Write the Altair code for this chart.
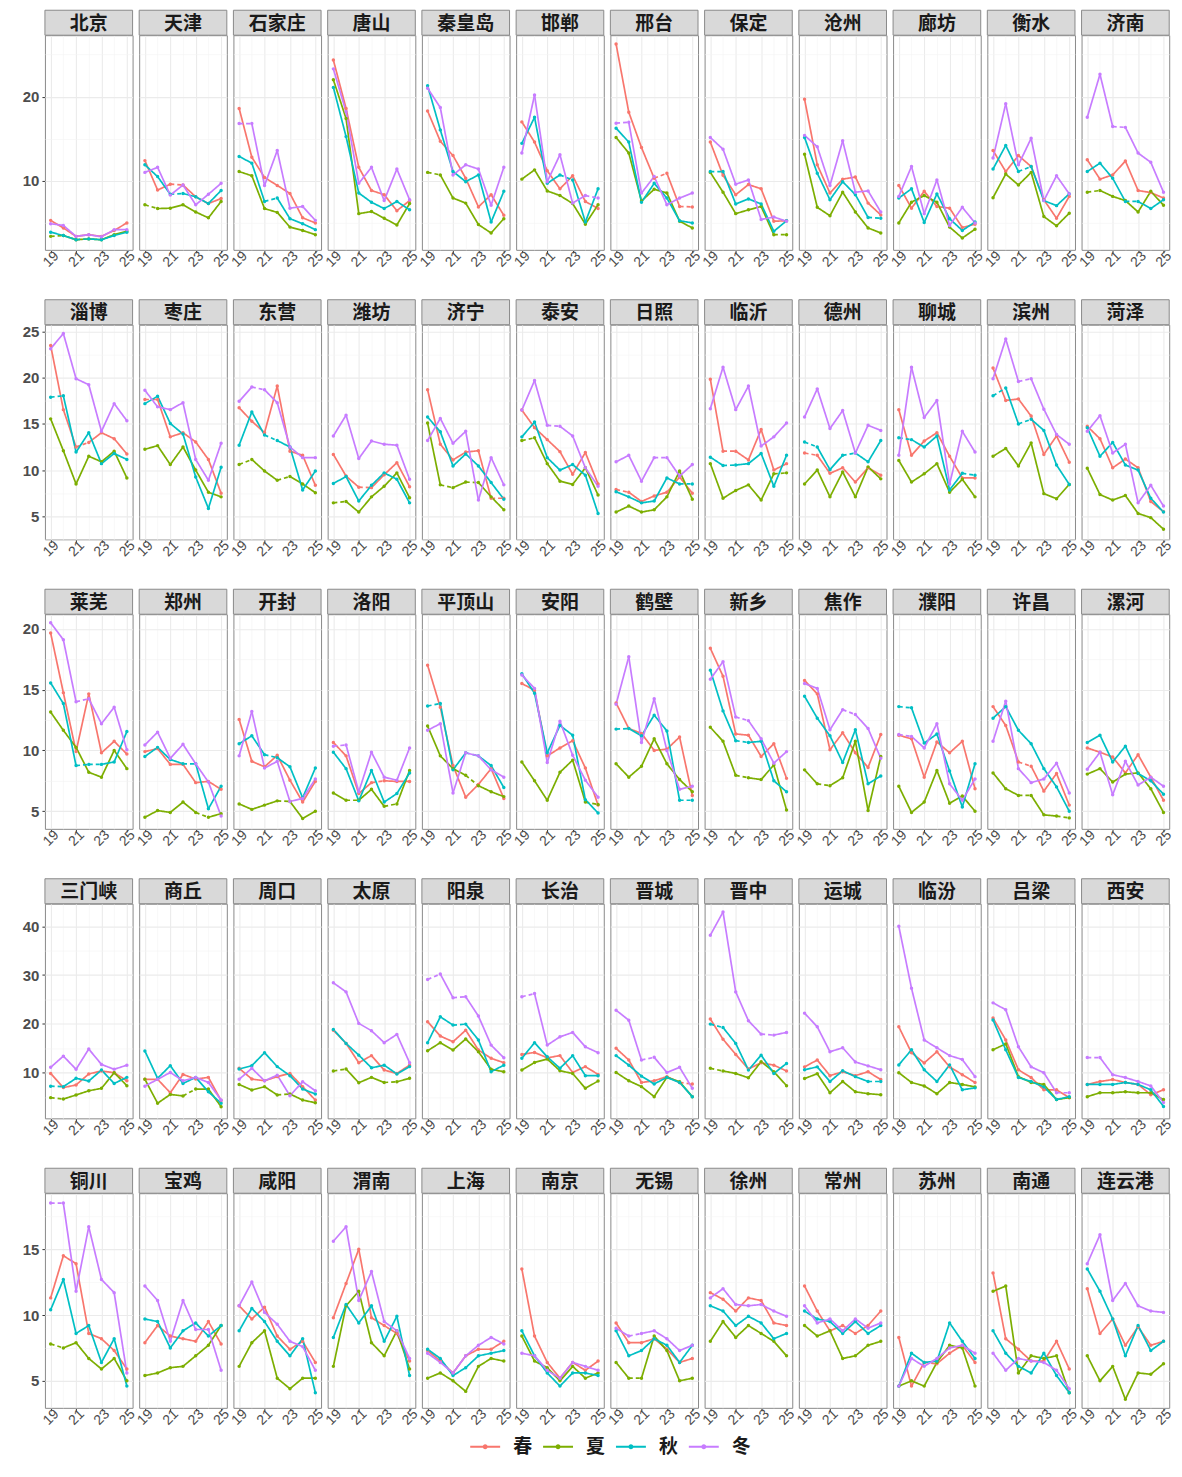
import altair as alt
import pandas as pd

SEASONS = ["春", "夏", "秋", "冬"]
COLORS = ["#F8766D", "#7CAE00", "#00BFC4", "#C77CFF"]
YEARS = [19, 20, 21, 22, 23, 24, 25]

# each city: [春, 夏, 秋, 冬] values for 2019..2025
ROW1 = {
    "北京": [[5.3, 4.4, 3.4, 3.6, 3.4, 4.1, 5.0], [3.4, 3.5, 3.0, 3.1, 3.0, 3.6, 4.0],
             [3.9, 3.5, 3.0, 3.1, 3.0, 3.5, 3.9], [4.9, 4.7, 3.4, 3.6, 3.35, 4.2, 4.2]],
    "天津": [[12.4, 8.9, 9.6, 9.5, 8.1, 7.3, 7.9], [7.15, 6.7, 6.75, 7.15, 6.3, 5.6, 7.55],
             [11.9, 10.5, 8.4, 8.5, 8.1, 7.3, 8.85], [11.0, 11.6, 8.3, 9.5, 7.15, 8.4, 9.7]],
    "石家庄": [[18.6, 12.8, 10.4, 9.45, 8.5, 5.6, 5.0], [11.1, 10.6, 6.7, 6.25, 4.5, 4.1, 3.6],
              [12.9, 12.1, 7.55, 7.95, 5.5, 4.9, 4.2], [16.8, 16.8, 9.45, 13.6, 6.75, 6.95, 5.3]],
    "唐山": [[24.35, 18.6, 11.6, 8.85, 8.35, 6.45, 7.65], [22.0, 17.4, 6.1, 6.35, 5.55, 4.75, 7.3],
             [21.1, 15.25, 8.55, 7.45, 6.7, 7.55, 6.55], [23.3, 18.2, 9.7, 11.6, 7.65, 11.4, 7.75]],
    "秦皇岛": [[18.3, 14.7, 13.0, 10.3, 6.9, 8.35, 5.9], [11.0, 10.7, 7.95, 7.35, 4.8, 3.8, 5.5],
              [21.3, 16.05, 11.1, 9.9, 10.7, 5.1, 8.75], [21.0, 18.7, 10.7, 11.9, 11.4, 7.1, 11.6]],
    "邯郸": [[17.0, 14.6, 11.2, 9.05, 10.6, 7.55, 6.7], [10.2, 11.3, 8.8, 8.25, 7.3, 4.85, 7.15],
             [14.45, 17.55, 9.7, 10.7, 10.1, 5.1, 9.05], [13.3, 20.2, 9.9, 13.1, 7.35, 8.25, 7.95]],
    "邢台": [[26.25, 18.15, 13.95, 10.3, 10.9, 6.95, 6.9], [15.15, 13.3, 7.6, 9.0, 8.55, 5.2, 4.4],
             [16.25, 14.6, 7.45, 9.7, 7.95, 5.25, 5.0], [16.85, 16.95, 8.55, 10.5, 7.15, 7.95, 8.55]],
    "保定": [[14.6, 10.65, 8.35, 9.55, 9.05, 5.2, 5.25], [11.0, 8.65, 6.1, 6.55, 6.95, 3.6, 3.6],
             [11.1, 11.1, 7.25, 7.85, 7.25, 4.0, 5.25], [15.15, 13.75, 9.6, 10.1, 5.4, 5.7, 5.2]],
    "沧州": [[19.7, 11.9, 8.55, 10.2, 10.45, 7.35, 5.95], [13.15, 6.85, 5.85, 8.65, 6.3, 4.4, 3.8],
             [15.15, 10.9, 7.75, 9.9, 8.35, 5.65, 5.55], [15.4, 14.05, 9.45, 14.75, 8.65, 8.8, 6.3]],
    "廊坊": [[9.45, 6.75, 8.75, 6.95, 6.75, 4.45, 4.85], [5.0, 7.45, 8.25, 7.45, 4.5, 3.2, 4.25],
             [7.95, 9.05, 5.05, 8.45, 5.5, 4.1, 5.1], [8.15, 11.7, 6.1, 10.1, 4.7, 6.85, 5.0]],
    "衡水": [[13.6, 11.1, 13.0, 11.7, 7.75, 5.55, 8.15], [8.0, 10.8, 9.5, 11.0, 5.75, 4.65, 6.15],
             [11.4, 14.2, 11.1, 11.7, 7.65, 7.05, 8.45], [12.7, 19.15, 11.9, 15.05, 7.65, 10.6, 8.45]],
    "济南": [[12.5, 10.2, 10.7, 12.35, 8.85, 8.6, 7.95], [8.65, 8.85, 8.15, 7.65, 6.3, 8.75, 7.1],
             [11.1, 12.1, 10.3, 7.55, 7.55, 6.7, 7.75], [17.55, 22.65, 16.45, 16.35, 13.3, 12.2, 8.65]],
}

ROW2 = {
    "淄博": [[23.5, 16.55, 12.5, 13.0, 14.05, 13.4, 11.75], [15.55, 12.1, 8.5, 11.5, 10.9, 12.05, 9.15],
             [17.9, 18.05, 11.95, 14.05, 10.7, 11.8, 11.15], [23.15, 24.8, 19.9, 19.25, 14.2, 17.2, 15.35]],
    "枣庄": [[17.65, 17.65, 13.6, 14.05, 13.05, 11.15, 7.5], [12.25, 12.65, 10.6, 12.5, 10.0, 7.6, 7.1],
             [17.2, 18.0, 15.05, 13.9, 9.25, 5.85, 10.3], [18.65, 16.85, 16.55, 17.3, 11.15, 8.9, 12.9]],
    "东营": [[16.75, 15.3, 14.05, 19.1, 12.05, 11.6, 8.35], [10.6, 11.15, 9.9, 8.9, 9.3, 8.5, 7.55],
             [12.7, 16.3, 13.8, 13.2, 12.5, 7.85, 9.9], [17.45, 19.0, 18.7, 17.3, 12.5, 11.35, 11.35]],
    "潍坊": [[11.7, 9.35, 8.15, 8.1, 9.5, 10.8, 8.2], [6.45, 6.6, 5.45, 7.1, 8.25, 9.7, 7.0],
             [8.55, 9.3, 6.65, 8.35, 9.7, 9.0, 6.45], [13.7, 15.95, 11.25, 13.15, 12.8, 12.7, 9.0]],
    "济宁": [[18.7, 12.8, 11.1, 11.95, 12.1, 6.95, 6.95], [15.1, 8.4, 8.1, 8.7, 8.65, 7.1, 5.7],
             [15.75, 14.15, 10.45, 11.75, 10.45, 8.65, 6.85], [13.2, 15.6, 12.9, 14.2, 6.75, 11.35, 8.4]],
    "泰安": [[16.5, 14.6, 13.3, 12.0, 9.55, 11.9, 8.5], [13.2, 13.5, 10.7, 8.8, 8.45, 10.25, 7.3],
             [13.6, 15.2, 11.35, 10.0, 10.6, 9.45, 5.3], [16.5, 19.7, 14.85, 14.75, 13.7, 10.25, 8.25]],
    "日照": [[7.9, 7.6, 6.6, 7.2, 7.6, 9.25, 7.5], [5.45, 6.1, 5.45, 5.7, 7.1, 9.9, 6.85],
             [7.65, 7.1, 6.45, 6.65, 9.15, 8.5, 8.5], [10.9, 11.6, 8.8, 11.35, 11.35, 9.35, 10.6]],
    "临沂": [[19.85, 12.05, 12.05, 11.1, 14.4, 10.0, 10.7], [10.7, 6.95, 7.8, 8.4, 6.75, 9.6, 9.7],
             [11.4, 10.5, 10.55, 10.7, 11.8, 8.25, 11.6], [16.65, 21.15, 16.55, 19.1, 12.6, 13.6, 15.1]],
    "德州": [[11.85, 11.6, 9.65, 10.25, 8.7, 10.25, 9.45], [8.5, 10.0, 7.1, 9.8, 7.1, 10.35, 9.05],
             [13.05, 12.5, 10.05, 11.6, 11.85, 10.9, 13.2], [15.75, 18.8, 14.5, 16.45, 11.85, 14.85, 14.3]],
    "聊城": [[16.55, 11.6, 13.15, 14.05, 11.5, 9.15, 9.15], [11.05, 8.7, 9.6, 10.7, 7.6, 9.0, 7.1],
             [13.5, 13.3, 12.5, 13.7, 7.85, 9.65, 9.45], [11.6, 21.15, 15.7, 17.55, 8.5, 14.2, 11.95]],
    "滨州": [[21.05, 17.55, 17.7, 15.85, 11.7, 13.7, 10.85], [11.5, 12.35, 10.45, 12.95, 7.45, 6.9, 8.45],
             [18.05, 18.9, 15.0, 15.5, 14.3, 10.55, 8.45], [19.9, 24.2, 19.6, 19.9, 16.6, 13.85, 12.8]],
    "菏泽": [[14.75, 13.4, 10.25, 11.2, 10.25, 6.6, 5.5], [10.2, 7.35, 6.75, 7.25, 5.3, 4.85, 3.6],
             [14.6, 11.5, 13.0, 10.55, 10.0, 6.95, 5.45], [14.2, 15.9, 11.85, 12.8, 6.45, 8.35, 6.1]],
}

ROW3 = {
    "莱芜": [[19.65, 14.75, 9.9, 14.65, 9.8, 10.75, 9.7], [13.15, 11.65, 10.25, 8.2, 7.8, 10.0, 8.5],
             [15.55, 13.85, 8.75, 8.85, 8.85, 9.05, 11.55], [20.5, 19.1, 14.0, 14.25, 12.2, 13.55, 10.05]],
    "郑州": [[9.9, 10.15, 8.85, 8.85, 7.35, 7.45, 6.8], [4.5, 5.05, 4.9, 5.75, 4.9, 4.5, 4.8],
             [9.5, 10.25, 9.25, 8.9, 8.9, 5.2, 7.05], [10.45, 11.5, 9.35, 10.5, 8.9, 7.4, 4.6]],
    "开封": [[12.55, 9.1, 8.65, 9.6, 7.55, 5.75, 7.45], [5.6, 5.15, 5.5, 5.85, 5.8, 4.4, 5.0],
             [10.55, 11.2, 9.65, 9.4, 8.65, 6.1, 8.55], [9.55, 13.2, 8.55, 9.1, 5.8, 6.05, 7.65]],
    "洛阳": [[10.65, 9.55, 6.45, 7.35, 7.5, 7.45, 7.45], [6.5, 5.9, 5.9, 6.8, 5.4, 5.6, 8.35],
             [9.85, 8.5, 5.85, 8.35, 5.75, 6.45, 8.15], [10.35, 10.45, 6.6, 9.85, 7.8, 7.55, 10.2]],
    "平顶山": [[17.0, 13.55, 8.75, 6.15, 7.2, 8.5, 6.05], [12.0, 9.55, 8.5, 7.95, 7.1, 6.6, 6.2],
              [13.65, 13.85, 8.4, 9.8, 9.55, 8.75, 6.95], [11.65, 12.2, 6.5, 9.8, 9.55, 8.4, 7.8]],
    "安阳": [[15.5, 14.95, 9.55, 10.2, 10.8, 8.55, 5.5], [9.05, 7.5, 5.9, 8.2, 9.2, 5.75, 5.55],
             [16.3, 14.7, 9.8, 12.05, 11.25, 5.95, 4.85], [16.2, 15.1, 9.0, 12.4, 9.6, 7.55, 6.15]],
    "鹤壁": [[13.9, 11.8, 11.4, 10.0, 10.1, 11.1, 6.3], [8.9, 7.8, 8.7, 10.95, 8.9, 7.6, 6.6],
             [11.75, 11.8, 11.2, 12.9, 11.6, 5.9, 5.9], [13.8, 17.7, 10.65, 14.25, 10.0, 6.8, 7.05]],
    "新乡": [[18.4, 16.1, 11.35, 11.25, 9.5, 10.55, 7.7], [11.9, 10.75, 7.95, 7.75, 7.6, 8.8, 5.1],
             [16.6, 13.25, 10.8, 10.65, 10.75, 7.5, 6.6], [15.85, 17.3, 12.75, 12.45, 10.95, 8.95, 9.9]],
    "焦作": [[15.75, 14.65, 10.05, 11.45, 9.8, 8.6, 11.3], [8.4, 7.25, 7.1, 7.75, 10.75, 5.05, 9.5],
             [14.45, 12.65, 11.2, 9.0, 11.7, 7.25, 7.9], [15.5, 15.1, 11.7, 13.35, 12.95, 11.8, 9.35]],
    "濮阳": [[11.25, 10.95, 7.8, 10.7, 9.8, 10.75, 6.85], [7.05, 4.9, 5.75, 8.35, 5.65, 6.25, 5.0],
             [13.6, 13.5, 10.6, 11.35, 8.3, 5.35, 8.9], [11.3, 11.15, 10.2, 12.2, 7.25, 5.9, 7.65]],
    "许昌": [[13.6, 12.05, 9.05, 8.7, 6.65, 8.1, 5.5], [8.15, 6.85, 6.3, 6.3, 4.7, 4.6, 4.45],
             [12.65, 13.6, 11.65, 10.55, 8.5, 7.0, 5.0], [10.75, 14.05, 8.5, 7.35, 7.65, 8.95, 6.5]],
    "漯河": [[10.2, 9.85, 9.45, 8.15, 9.65, 7.8, 5.9], [8.05, 8.5, 7.4, 8.05, 8.15, 6.85, 4.9],
             [10.65, 11.25, 9.05, 10.35, 8.1, 7.5, 6.4], [8.45, 9.85, 6.35, 9.1, 7.15, 7.8, 7.05]],
}

ROW4 = {
    "三门峡": [[9.85, 6.95, 7.5, 9.75, 10.35, 10.0, 8.35], [4.9, 4.6, 5.45, 6.3, 6.8, 10.0, 7.35],
              [7.25, 7.15, 8.85, 8.3, 10.55, 7.8, 9.05], [11.1, 13.4, 10.7, 14.85, 11.7, 10.7, 11.55]],
    "商丘": [[8.65, 8.65, 5.9, 9.65, 8.7, 9.05, 4.3], [8.65, 3.75, 5.55, 5.25, 6.65, 6.65, 3.05],
             [14.45, 8.85, 11.45, 7.8, 9.05, 6.1, 3.75], [7.25, 8.65, 10.05, 8.35, 9.05, 8.0, 4.4]],
    "周口": [[10.9, 8.7, 8.35, 9.2, 9.85, 7.15, 4.4], [7.6, 6.45, 7.15, 5.45, 5.65, 4.4, 3.85],
             [10.75, 11.45, 14.1, 11.25, 9.4, 6.65, 5.65], [8.65, 10.9, 8.35, 9.5, 5.3, 8.15, 6.3]],
    "太原": [[18.7, 16.0, 12.05, 13.5, 10.55, 9.85, 11.55], [10.35, 10.75, 7.95, 9.05, 8.0, 8.15, 8.85],
             [18.85, 16.0, 13.6, 11.0, 11.55, 9.75, 11.25], [28.4, 26.55, 20.1, 18.6, 16.15, 17.85, 12.05]],
    "阳泉": [[20.45, 17.5, 16.35, 18.7, 14.65, 12.95, 12.05], [14.5, 16.15, 14.65, 16.9, 14.3, 10.7, 10.2],
             [16.15, 21.45, 19.75, 19.95, 16.7, 10.2, 11.55], [29.1, 30.2, 25.35, 25.55, 21.6, 15.65, 13.05]],
    "长治": [[13.75, 14.15, 13.05, 13.5, 10.05, 11.25, 9.65], [10.55, 12.1, 12.8, 10.4, 9.85, 6.8, 8.3],
             [12.95, 16.15, 13.25, 10.9, 13.5, 9.4, 9.4], [25.55, 26.2, 15.65, 17.35, 18.25, 15.3, 14.1]],
    "晋城": [[15.0, 12.6, 8.0, 8.35, 9.2, 8.0, 7.7], [10.05, 8.35, 7.15, 5.1, 9.05, 8.15, 5.1],
             [13.5, 11.55, 9.3, 7.7, 9.05, 8.0, 5.1], [22.8, 20.75, 12.6, 13.15, 10.05, 11.1, 6.8]],
    "晋中": [[21.0, 16.85, 13.75, 10.75, 12.05, 11.55, 10.35], [10.9, 10.35, 9.85, 8.95, 12.25, 10.2, 7.35],
             [19.95, 19.25, 16.0, 10.55, 13.6, 9.85, 11.9], [38.15, 42.9, 26.55, 20.65, 17.9, 17.7, 18.25]],
    "运城": [[11.2, 12.6, 9.4, 10.2, 9.4, 10.2, 8.6], [8.8, 9.8, 5.9, 8.2, 6.1, 5.7, 5.5],
             [10.6, 11.2, 8.2, 10.4, 9.2, 8.2, 8.2], [22.2, 19.4, 14.3, 15.1, 12.2, 11.4, 10.6]],
    "临汾": [[19.4, 14.1, 12.0, 14.3, 11.2, 9.6, 8.0], [10.0, 8.0, 7.3, 5.7, 8.0, 7.6, 7.1],
             [11.6, 14.7, 10.6, 8.2, 11.6, 6.5, 6.9], [40.0, 27.3, 16.7, 15.1, 13.5, 12.7, 9.2]],
    "吕梁": [[21.2, 16.7, 10.6, 9.0, 6.5, 6.5, 4.9], [14.7, 15.9, 9.2, 8.0, 7.6, 4.5, 4.9],
             [20.8, 14.7, 9.0, 8.2, 7.1, 4.5, 5.1], [24.3, 22.9, 15.3, 11.2, 10.0, 5.9, 5.9]],
    "西安": [[7.6, 8.2, 8.6, 8.0, 7.6, 5.5, 6.5], [5.1, 5.9, 5.9, 6.1, 5.9, 5.9, 4.5],
             [7.6, 7.6, 7.6, 8.0, 7.6, 6.5, 3.1], [13.1, 13.1, 9.6, 9.0, 8.2, 7.3, 3.9]],
}

ROW5 = {
    "铜川": [[11.3, 14.5, 13.9, 8.6, 8.2, 7.3, 5.9], [7.8, 7.5, 7.9, 6.7, 5.9, 6.7, 5.0],
             [10.4, 12.7, 8.6, 9.2, 6.4, 8.2, 4.6], [18.5, 18.5, 11.8, 16.7, 12.7, 11.7, 5.6]],
    "宝鸡": [[7.9, 9.2, 8.4, 8.2, 8.0, 9.5, 7.8], [5.4, 5.6, 6.0, 6.1, 6.9, 7.7, 9.2],
             [9.7, 9.5, 7.5, 8.8, 9.4, 8.4, 9.2], [12.2, 11.1, 8.0, 11.1, 8.9, 8.9, 5.8]],
    "咸阳": [[10.7, 9.7, 10.6, 8.4, 7.4, 8.0, 6.4], [6.1, 7.9, 8.8, 5.2, 4.4, 5.2, 5.2],
             [8.8, 10.5, 9.5, 8.0, 6.9, 8.2, 4.1], [10.7, 12.5, 10.2, 9.3, 8.0, 7.6, 5.8]],
    "渭南": [[9.8, 12.4, 15.0, 9.8, 9.2, 8.6, 6.5], [6.1, 10.7, 11.8, 7.9, 6.9, 8.8, 5.9],
             [8.3, 10.8, 9.4, 10.7, 8.0, 9.9, 5.4], [15.6, 16.7, 11.1, 13.3, 9.5, 8.8, 6.7]],
    "上海": [[7.3, 6.5, 5.6, 6.9, 7.4, 7.4, 8.0], [5.2, 5.6, 5.0, 4.2, 6.1, 6.7, 6.5],
             [7.4, 6.7, 5.4, 6.0, 6.9, 7.1, 7.3], [7.1, 6.4, 5.6, 6.9, 7.7, 8.3, 7.8]],
    "南京": [[13.5, 8.4, 6.4, 5.2, 6.4, 5.8, 6.5], [8.4, 6.5, 6.0, 5.0, 6.1, 5.2, 5.6],
             [8.8, 6.9, 5.6, 4.6, 5.6, 5.6, 5.4], [7.1, 6.9, 5.8, 5.2, 6.4, 6.1, 5.8]],
    "无锡": [[9.4, 7.9, 7.9, 8.2, 7.4, 6.4, 6.7], [6.4, 5.2, 5.2, 8.4, 7.3, 5.0, 5.2],
             [8.8, 6.9, 7.3, 8.2, 7.7, 6.4, 7.7], [9.0, 8.4, 8.6, 8.8, 8.2, 7.3, 7.7]],
    "徐州": [[11.7, 11.2, 10.3, 11.3, 11.1, 9.4, 9.2], [8.0, 9.5, 8.3, 9.2, 8.6, 8.0, 6.9],
             [10.7, 10.3, 9.2, 9.9, 9.4, 8.2, 8.6], [11.3, 12.0, 10.8, 10.7, 10.8, 10.3, 9.9]],
    "常州": [[12.2, 10.3, 8.8, 9.2, 8.6, 9.2, 10.3], [9.2, 8.4, 8.8, 6.7, 6.9, 7.7, 8.0],
             [10.3, 9.7, 9.5, 8.6, 9.5, 8.6, 9.2], [10.7, 9.4, 9.7, 8.8, 9.7, 9.0, 9.4]],
    "苏州": [[8.3, 4.6, 6.4, 6.3, 7.1, 7.7, 6.4], [4.6, 5.0, 4.6, 6.4, 7.7, 7.5, 4.6],
             [4.6, 7.1, 6.4, 6.5, 9.4, 8.0, 6.7], [4.6, 6.7, 6.1, 6.7, 7.5, 7.7, 7.1]],
    "南通": [[13.2, 8.2, 7.4, 6.5, 6.5, 8.0, 5.9], [11.8, 12.2, 5.6, 6.9, 6.7, 6.9, 4.1],
             [8.8, 7.1, 6.1, 5.6, 7.1, 5.4, 4.1], [7.1, 5.8, 6.7, 6.5, 6.4, 5.8, 4.4]],
    "连云港": [[12.0, 8.6, 9.7, 7.7, 9.1, 7.7, 8.0], [6.9, 5.0, 6.1, 3.6, 5.6, 5.5, 6.3],
              [13.5, 11.8, 9.7, 6.9, 9.2, 7.3, 8.0], [13.9, 16.1, 11.1, 12.4, 10.7, 10.3, 10.2]],
}

# dashed segments: (city, season, index of segment start year)
DASHED = [
    ("北京", "夏", 0), ("北京", "秋", 2), ("天津", "春", 2), ("天津", "夏", 0), ("天津", "秋", 2),
    ("石家庄", "秋", 2), ("石家庄", "冬", 0), ("秦皇岛", "夏", 0), ("邯郸", "秋", 3), ("邯郸", "冬", 5),
    ("邢台", "春", 3), ("邢台", "春", 5), ("邢台", "冬", 0), ("保定", "夏", 5), ("保定", "秋", 0),
    ("沧州", "秋", 5), ("衡水", "秋", 2), ("济南", "夏", 0), ("济南", "秋", 3), ("济南", "冬", 2),
    ("淄博", "春", 2), ("淄博", "秋", 0), ("枣庄", "春", 0), ("东营", "夏", 0), ("东营", "夏", 3),
    ("东营", "秋", 2), ("东营", "冬", 1), ("潍坊", "春", 2), ("潍坊", "夏", 0), ("济宁", "春", 5),
    ("济宁", "夏", 1), ("济宁", "夏", 3), ("泰安", "夏", 0), ("泰安", "冬", 2), ("日照", "春", 0),
    ("日照", "秋", 5), ("日照", "冬", 3), ("临沂", "春", 1), ("临沂", "秋", 1), ("临沂", "夏", 5),
    ("德州", "春", 0), ("德州", "秋", 0), ("德州", "秋", 3), ("聊城", "秋", 0), ("聊城", "秋", 5),
    ("滨州", "秋", 0), ("滨州", "秋", 2), ("滨州", "冬", 2),
    ("莱芜", "秋", 2), ("莱芜", "秋", 3), ("莱芜", "冬", 2), ("郑州", "秋", 3), ("郑州", "夏", 4),
    ("开封", "夏", 3), ("开封", "秋", 2), ("洛阳", "春", 3), ("洛阳", "夏", 1), ("洛阳", "夏", 4),
    ("洛阳", "冬", 0), ("平顶山", "夏", 3), ("平顶山", "秋", 0), ("平顶山", "秋", 3), ("安阳", "夏", 5),
    ("鹤壁", "秋", 0), ("鹤壁", "秋", 5), ("新乡", "夏", 2), ("新乡", "秋", 2), ("新乡", "冬", 2),
    ("焦作", "夏", 1), ("焦作", "冬", 3), ("濮阳", "秋", 0), ("濮阳", "冬", 0), ("许昌", "春", 2),
    ("许昌", "夏", 2), ("许昌", "夏", 5),
    ("三门峡", "夏", 0), ("三门峡", "秋", 0), ("商丘", "夏", 3), ("周口", "夏", 3), ("太原", "夏", 0),
    ("太原", "夏", 4), ("阳泉", "冬", 0), ("阳泉", "冬", 2), ("阳泉", "秋", 2), ("长治", "冬", 0),
    ("晋城", "春", 5), ("晋城", "冬", 2), ("晋中", "夏", 0), ("晋中", "秋", 0), ("晋中", "冬", 4),
    ("运城", "秋", 5), ("吕梁", "冬", 5), ("西安", "冬", 0),
    ("铜川", "冬", 0), ("铜川", "夏", 0), ("无锡", "夏", 1), ("无锡", "冬", 1), ("苏州", "春", 2),
]

# (row data, y domain, y grid values, label step)
ROW_AXES = [
    (ROW1, [1.8, 27.3], [5, 10, 15, 20, 25], 10),
    (ROW2, [2.5, 25.75], [2.5, 5, 7.5, 10, 12.5, 15, 17.5, 20, 22.5, 25], 5),
    (ROW3, [3.55, 21.2], [5, 7.5, 10, 12.5, 15, 17.5, 20], 5),
    (ROW4, [0.66, 44.6], [5, 10, 15, 20, 25, 30, 35, 40], 10),
    (ROW5, [2.95, 19.25], [5, 7.5, 10, 12.5, 15, 17.5], 5),
]

W = 87.8
H = 215
STRIP = 25
CJK = "Noto Sans CJK SC"
LAT = "Liberation Sans"

dash_set = set(DASHED)
color_scale = alt.Scale(domain=SEASONS, range=COLORS)


def build_df(row):
    recs = []
    for c, series in row.items():
        recs.append(dict(kind="strip", city=c))
        for s, vals in zip(SEASONS, series):
            for yr, v in zip(YEARS, vals):
                recs.append(dict(kind="pt", city=c, season=s, year=yr, value=v))
            for i in range(len(YEARS) - 1):
                d = "d" if (c, s, i) in dash_set else "s"
                sid = f"{c}|{s}|{i}"
                for j in (i, i + 1):
                    recs.append(dict(kind="seg", city=c, season=s, seg=sid, dash=d,
                                     year=YEARS[j], value=vals[j]))
    return pd.DataFrame(recs)


def row_chart(row, domain, ticks, step):
    df = build_df(row)
    cities = list(row.keys())
    x_axis = alt.Axis(
        values=YEARS,
        labelExpr="datum.value % 2 == 1 ? datum.label : ''",
        labelAngle=315, labelAlign="center", labelBaseline="middle",
        labelFont=LAT, labelFontSize=14, labelColor="#4D4D4D", labelPadding=6,
        gridColor={"condition": {"test": "datum.value % 2 == 1", "value": "#EBEBEB"}, "value": "#F3F3F3"},
        gridWidth={"condition": {"test": "datum.value % 2 == 1", "value": 1.1}, "value": 0.6},
        tickColor={"condition": {"test": "datum.value % 2 == 1", "value": "#333333"}, "value": "transparent"},
        tickSize=3, domain=False, format="d",
    )
    y_axis = alt.Axis(
        values=ticks,
        labelExpr=f"datum.value % {step} == 0 ? datum.label : ''",
        labelFont=LAT, labelFontSize=15, labelFontWeight="bold", labelColor="#4D4D4D",
        labelPadding=3,
        gridColor={"condition": {"test": f"datum.value % {step} == 0", "value": "#EBEBEB"}, "value": "#F3F3F3"},
        gridWidth={"condition": {"test": f"datum.value % {step} == 0", "value": 1.1}, "value": 0.6},
        tickColor={"condition": {"test": f"datum.value % {step} == 0", "value": "#333333"}, "value": "transparent"},
        tickSize=3, domain=False,
    )
    xs = alt.X("year:Q", scale=alt.Scale(domain=[18.55, 25.45], nice=False, zero=False), axis=x_axis, title=None)
    ys = alt.Y("value:Q", scale=alt.Scale(domain=domain, nice=False, zero=False), axis=y_axis, title=None)

    base = alt.Chart()
    lines = base.mark_line(strokeWidth=1.7).encode(
        x=xs, y=ys,
        color=alt.Color("season:N", scale=color_scale, legend=alt.Legend(
            title=None, orient="none", legendX=425, legendY=1398, direction="horizontal",
            symbolType="M-1,0L1,0M-0.1,0A0.1,0.1,0,1,1,0.1,0A0.1,0.1,0,1,1,-0.1,0",
            symbolSize=900, symbolStrokeWidth=2, labelFont=CJK, labelFontSize=19,
            labelFontWeight="bold", labelColor="#1A1A1A", columnPadding=6, labelOffset=12)),
        detail="seg:N",
        strokeDash=alt.StrokeDash("dash:N", scale=alt.Scale(domain=["s", "d"], range=[[1, 0], [4, 3]]), legend=None),
    ).transform_filter("datum.kind == 'seg'")
    pts = base.mark_circle(size=12, opacity=1).encode(
        x=xs, y=ys, color=alt.Color("season:N", scale=color_scale, legend=None),
    ).transform_filter("datum.kind == 'pt'")
    strip_rect = base.mark_rect(fill="#D9D9D9", stroke="#8A8A8A", strokeWidth=1).encode(
        x=alt.value(0), x2=alt.value(W), y=alt.value(-STRIP), y2=alt.value(0),
    ).transform_filter("datum.kind == 'strip'")
    strip_text = base.mark_text(font=CJK, fontSize=19, fontWeight="bold", color="#1A1A1A",
                                align="center", baseline="middle").encode(
        x=alt.value(W / 2), y=alt.value(-STRIP / 2 + 1), text="city:N",
    ).transform_filter("datum.kind == 'strip'")
    layer = alt.layer(lines, pts, strip_rect, strip_text, data=df).properties(width=W, height=H)
    return layer.facet(
        column=alt.Column("city:N", sort=cities, header=None, title=None),
        spacing=6.4, bounds="flush",
    )


rows = [row_chart(r, d, t, s) for (r, d, t, s) in ROW_AXES]

chart = alt.vconcat(*rows, spacing=29).resolve_scale(
    y="independent", x="independent", color="shared"
).properties(
    padding={"left": 14, "top": 0, "right": 0, "bottom": 2},
    background="white",
).configure_view(stroke="#8A8A8A", strokeWidth=1)

chart.save("out.html", embed_options={"renderer": "svg", "actions": False})
